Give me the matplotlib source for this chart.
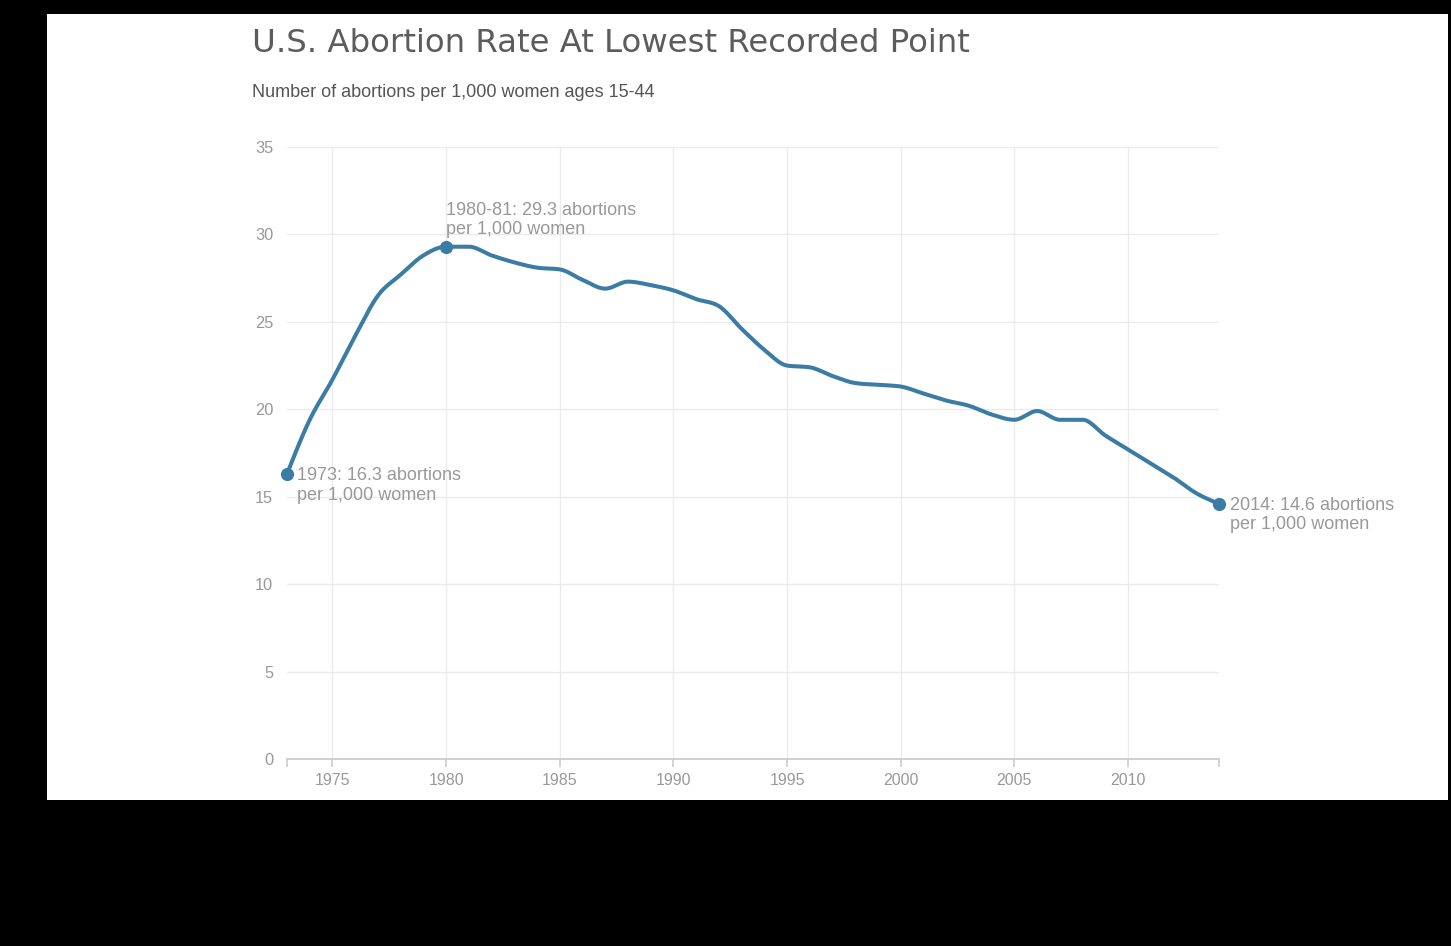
import numpy as np
import matplotlib
matplotlib.use("Agg")
import matplotlib.pyplot as plt
from matplotlib.patches import Rectangle

# ---------------- data ----------------
years = list(range(1973, 2015))
rates = [16.3, 19.4, 21.7, 24.2, 26.5, 27.7, 28.8, 29.3, 29.3, 28.8,
         28.4, 28.1, 28.0, 27.4, 26.9, 27.3, 27.1, 26.8, 26.3, 25.9,
         24.6, 23.4, 22.5, 22.4, 21.9, 21.5, 21.4, 21.3, 20.9, 20.5,
         20.2, 19.7, 19.4, 19.9, 19.4, 19.4, 18.5, 17.7, 16.9, 16.1,
         15.2, 14.6]
x_ticks = [1975, 1980, 1985, 1990, 1995, 2000, 2005, 2010]
y_ticks = [0, 5, 10, 15, 20, 25, 30, 35]
highlight_years = [1973, 1980, 2014]
highlight_labels = ["1973: 16.3 abortions\nper 1,000 women",
                    "1980-81: 29.3 abortions\nper 1,000 women",
                    "2014: 14.6 abortions\nper 1,000 women"]
title = "U.S. Abortion Rate At Lowest Recorded Point"
subtitle = "Number of abortions per 1,000 women ages 15-44"


# d3 curveMonotoneX style smoothing (rendering only)
def monotone_curve(x, y, n=30):
    x = np.asarray(x, float)
    y = np.asarray(y, float)
    h = np.diff(x)
    s = np.diff(y) / h
    t = np.zeros_like(y)
    for i in range(1, len(x) - 1):
        s0, s1 = s[i - 1], s[i]
        p = (s0 * h[i] + s1 * h[i - 1]) / (h[i - 1] + h[i])
        t[i] = (np.sign(s0) + np.sign(s1)) * min(abs(s0), abs(s1), 0.5 * abs(p))
    t[0] = (3 * s[0] - t[1]) / 2
    t[-1] = (3 * s[-1] - t[-2]) / 2
    xs, ys = [], []
    for i in range(len(x) - 1):
        u = np.linspace(0, 1, n, endpoint=False)
        h00 = 2 * u**3 - 3 * u**2 + 1
        h10 = u**3 - 2 * u**2 + u
        h01 = -2 * u**3 + 3 * u**2
        h11 = u**3 - u**2
        xs.append(x[i] + u * h[i])
        ys.append(h00 * y[i] + h10 * h[i] * t[i] + h01 * y[i + 1] + h11 * h[i] * t[i + 1])
    xs.append([x[-1]])
    ys.append([y[-1]])
    return np.concatenate(xs), np.concatenate(ys)


W, H = 1451, 946
fig = plt.figure(figsize=(W / 100, H / 100), dpi=100, facecolor="black")
fig.patches.append(Rectangle((47 / W, (H - 800) / H), (1448 - 47) / W, (800 - 14) / H,
                             transform=fig.transFigure, facecolor="white",
                             edgecolor="none", zorder=-10))

ax = fig.add_axes([287 / W, (H - 759) / H, (1219 - 287) / W, (759 - 147) / H])
ax.set_facecolor("none")
ax.set_zorder(2)

line_color = "#3b7ca4"
label_gray = "#999999"
grid_gray = "#ebebeb"

xs, ys = monotone_curve(years, rates)
ax.plot(xs, ys, color=line_color, lw=2.9, solid_capstyle="round", zorder=3, clip_on=False)

hx = [y for y in highlight_years]
hy = [rates[years.index(y)] for y in highlight_years]
ax.scatter(hx, hy, s=90, color=line_color, zorder=4, clip_on=False, linewidths=0)

# annotations
ann_font = dict(family="Liberation Sans", fontsize=13, color=label_gray, linespacing=1.2)
ax.annotate(highlight_labels[0], (hx[0], hy[0]), xytext=(7, 5), textcoords="offset points",
            ha="left", va="top", **ann_font)
ax.annotate(highlight_labels[1], (hx[1], hy[1]), xytext=(0, 6), textcoords="offset points",
            ha="left", va="bottom", **ann_font)
ax.annotate(highlight_labels[2], (hx[2], hy[2]), xytext=(8, 5), textcoords="offset points",
            ha="left", va="top", **ann_font)

ax.set_xlim(1973, 2014)
ax.set_ylim(0, 35)
ax.set_xticks(x_ticks)
ax.set_xticks([1973, 2014], minor=True)
ax.set_yticks(y_ticks)
ax.set_xticklabels([str(v) for v in x_ticks])
ax.set_yticklabels([str(v) for v in y_ticks])

ax.grid(True, which="major", color=grid_gray, lw=1.0, zorder=0)
ax.set_axisbelow(True)

for side in ["top", "right", "left"]:
    ax.spines[side].set_visible(False)
ax.spines["bottom"].set_color("#cccccc")
ax.spines["bottom"].set_linewidth(1.3)

ax.tick_params(axis="x", which="both", length=6, width=1.2, color="#cccccc",
               labelcolor=label_gray, labelsize=11.5, pad=4)
ax.tick_params(axis="y", length=0, labelcolor=label_gray, labelsize=11.8, pad=10)
for lab in ax.get_xticklabels() + ax.get_yticklabels():
    lab.set_family("Liberation Sans")

fig.text(252 / W, (H - 52) / H, title, family="DejaVu Sans", fontsize=23.3, color="#5c5c5c",
         ha="left", va="baseline")
fig.text(252 / W, (H - 97) / H, subtitle, family="Liberation Sans", fontsize=13,
         color="#555555", ha="left", va="baseline")

fig.savefig("out.png", dpi=100, facecolor="black")
